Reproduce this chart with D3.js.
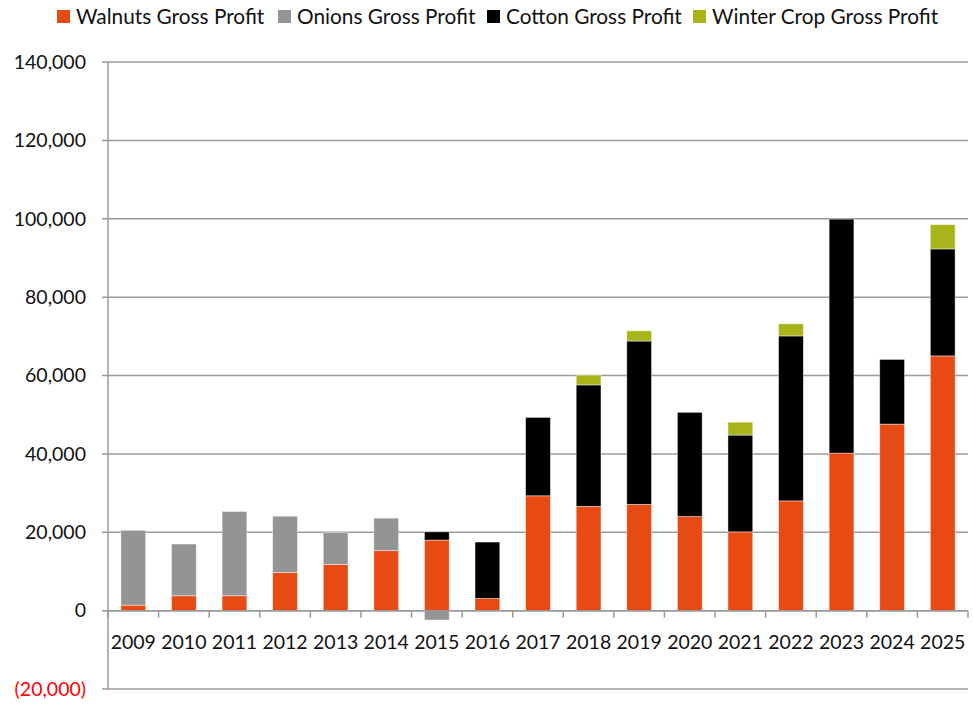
<!DOCTYPE html>
<html>
<head>
<meta charset="utf-8">
<script src="https://cdn.jsdelivr.net/npm/d3@7"></script>
<style>
  html, body { margin: 0; padding: 0; background: #fff; }
  svg { display: block; }
  text { font-family: Lato, "Noto Sans", sans-serif; }
</style>
</head>
<body>
<svg id="chart" width="973" height="704"></svg>
<script>
// Gross profit by crop, per year
const years = ["2009","2010","2011","2012","2013","2014","2015","2016","2017",
               "2018","2019","2020","2021","2022","2023","2024","2025"];
const walnuts = [1400, 3800, 3800, 9700, 11800, 15300, 18000, 3100, 29300,
                 26600, 27100, 24000, 20100, 28000, 40200, 47600, 65000];
const onions  = [19100, 13200, 21500, 14400, 8100, 8300, -2400, 0, 0,
                 0, 0, 0, 0, 0, 0, 0, 0];
const cotton  = [0, 0, 0, 0, 0, 0, 2100, 14400, 20000,
                 31000, 41700, 26600, 24700, 42100, 59700, 16500, 27300];
const winter  = [0, 0, 0, 0, 0, 0, 0, 0, 0,
                 2500, 2600, 0, 3300, 3100, 0, 0, 6200];
const yTicks  = [-20000, 0, 20000, 40000, 60000, 80000, 100000, 120000, 140000];

const seriesNames = ["Walnuts Gross Profit", "Onions Gross Profit",
                     "Cotton Gross Profit", "Winter Crop Gross Profit"];
const seriesKeys  = ["walnuts", "onions", "cotton", "winter"];
const colors      = ["#e84a14", "#949494", "#000000", "#a9b41b"];

const rows = years.map((yr, i) => ({
  year: yr, walnuts: walnuts[i], onions: onions[i], cotton: cotton[i], winter: winter[i]
}));

const svg = d3.select("#chart");
const plotLeft = 108, plotRight = 968, plotTop = 62, plotBottom = 689;

const x = d3.scaleBand().domain(years).range([plotLeft, plotRight])
  .paddingInner(0.51).paddingOuter(0.255);
const y = d3.scaleLinear().domain([-20000, 140000]).range([plotBottom, plotTop]);

const fmt = v => v < 0 ? "(" + d3.format(",")(-v) + ")" : d3.format(",")(v);

// horizontal gridlines with short left tick stubs
svg.append("g").selectAll("line").data(yTicks).join("line")
  .attr("x1", plotLeft - 6).attr("x2", plotRight)
  .attr("y1", d => y(d)).attr("y2", d => y(d))
  .attr("stroke", "#9a9a9a").attr("stroke-width", 1.5);

// value axis line
svg.append("line")
  .attr("x1", plotLeft).attr("x2", plotLeft).attr("y1", plotTop).attr("y2", plotBottom)
  .attr("stroke", "#9a9a9a").attr("stroke-width", 1.5);

// value axis labels
svg.append("g").selectAll("text").data(yTicks).join("text")
  .attr("x", 86).attr("y", d => y(d)).attr("dy", "0.35em")
  .attr("text-anchor", "end").attr("font-size", 19.5)
  .attr("fill", d => d < 0 ? "#ff0000" : "#111")
  .text(fmt);

// stacked bars (negatives stack downward)
const stack = d3.stack().keys(seriesKeys).offset(d3.stackOffsetDiverging);
const layers = stack(rows);

svg.append("g").selectAll("g").data(layers).join("g")
  .attr("fill", (d, i) => colors[i])
  .selectAll("rect").data(d => d.filter(p => p[1] !== p[0])).join("rect")
  .attr("x", d => x(d.data.year))
  .attr("width", x.bandwidth())
  .attr("y", d => y(Math.max(d[0], d[1])))
  .attr("height", d => Math.abs(y(d[0]) - y(d[1])))
  .attr("stroke", "rgba(255,255,255,0.55)").attr("stroke-width", 0.8);

// category axis at zero with ticks between categories
const zeroY = y(0);
svg.append("line")
  .attr("x1", plotLeft).attr("x2", plotRight).attr("y1", zeroY).attr("y2", zeroY)
  .attr("stroke", "#9a9a9a").attr("stroke-width", 1.5);
const bounds = d3.range(years.length + 1).map(i => plotLeft + i * x.step());
svg.append("g").selectAll("line").data(bounds).join("line")
  .attr("x1", d => d).attr("x2", d => d)
  .attr("y1", zeroY).attr("y2", zeroY + 7)
  .attr("stroke", "#9a9a9a").attr("stroke-width", 1.5);

svg.append("g").selectAll("text").data(years).join("text")
  .attr("x", d => x(d) + x.bandwidth() / 2).attr("y", 642)
  .attr("dy", "0.35em").attr("text-anchor", "middle")
  .attr("font-size", 19.5).attr("fill", "#111")
  .text(d => d);

// legend
const legendX = [57, 278, 487, 693];
const lg = svg.append("g").selectAll("g").data(seriesNames).join("g")
  .attr("transform", (d, i) => `translate(${legendX[i]},10)`);
lg.append("rect").attr("width", 13).attr("height", 13)
  .attr("fill", (d, i) => colors[i]);
lg.append("text").attr("x", 19).attr("y", 7).attr("dy", "0.35em")
  .attr("font-size", 20.8).attr("fill", "#111").text(d => d);
</script>
</body>
</html>
